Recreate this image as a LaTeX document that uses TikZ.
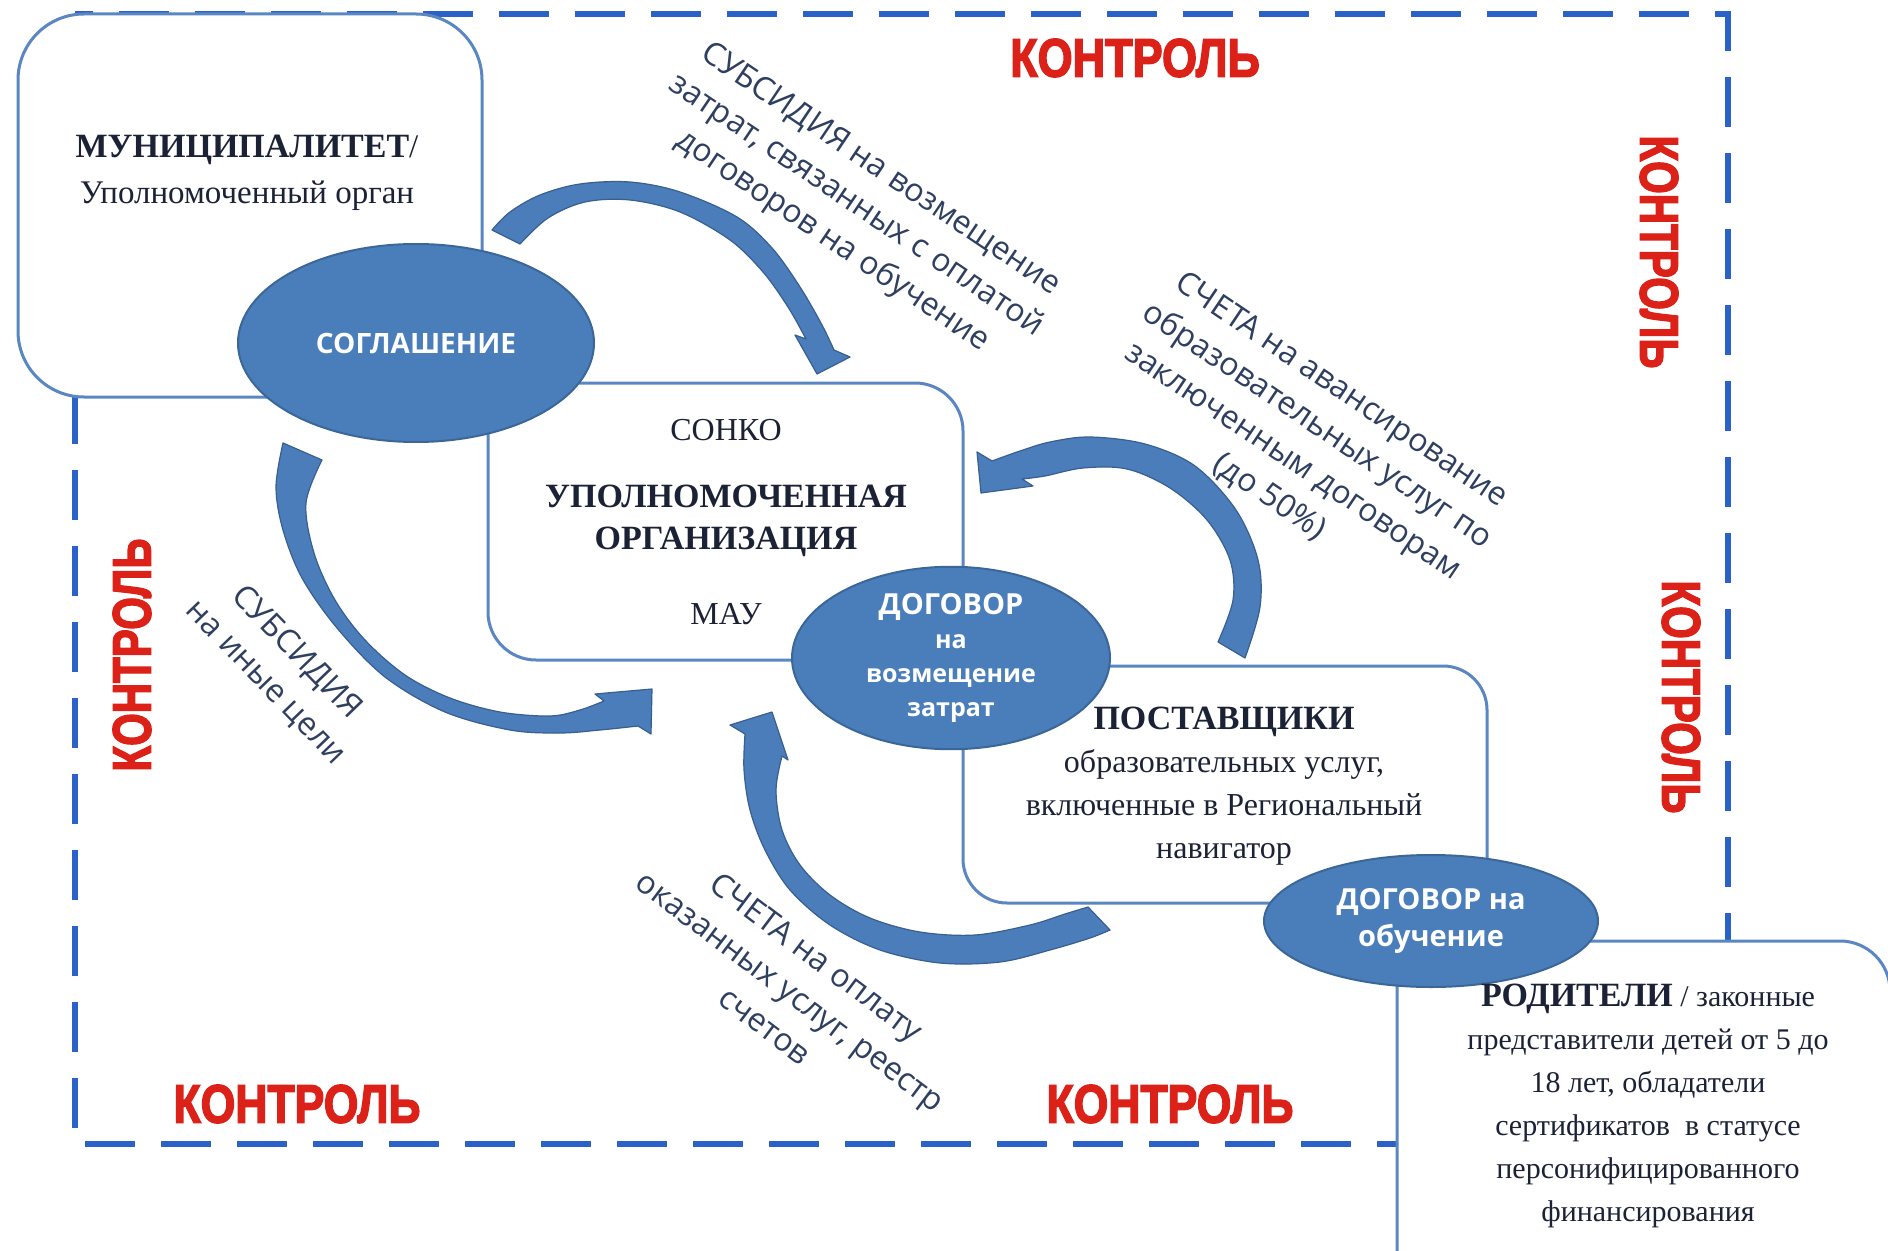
\documentclass[tikz,border=0pt]{standalone}
\usepackage{fontspec}
\setmainfont{Liberation Serif}
\newfontfamily\osans{Open Sans}
\newfontfamily\kfont[BoldFeatures={FakeBold=3}]{Liberation Sans}
\usetikzlibrary{shapes.geometric}
\definecolor{boxblue}{HTML}{5A86C2}
\definecolor{ovalfill}{HTML}{4A7EBB}
\definecolor{ovaledge}{HTML}{3A6798}
\definecolor{arrowfill}{HTML}{4A7DBA}
\definecolor{arrowedge}{HTML}{375F90}
\definecolor{dashblue}{HTML}{2A62C8}
\definecolor{ctrlred}{HTML}{DC2119}
\definecolor{txtcol}{HTML}{1C2235}
\definecolor{lblcol}{HTML}{2E3F60}
\tikzset{
  box/.style={draw=boxblue, line width=1.5pt, fill=white, rectangle},
  oval/.style={ellipse, fill=ovalfill, draw=ovaledge, line width=1pt, inner sep=0pt,
    text=white, align=center},
  frame/.style={draw=dashblue, line width=3pt, dash pattern=on 25pt off 13pt},
  ctrl/.style={text=ctrlred, inner sep=0pt, font=\kfont\bfseries\fontsize{25}{25}\selectfont},
  lbl/.style={text=lblcol, align=center, inner sep=0pt, font=\osans\fontsize{16}{21.5}\selectfont},
  serif/.style={text=txtcol, align=center, inner sep=0pt},
  barrow/.style={fill=arrowfill, draw=arrowedge, line width=0.6pt, line join=round},
}
\begin{document}
\begin{tikzpicture}[x=0.5pt,y=-0.5pt]
\useasboundingbox (0,0) rectangle (1888,1251);
\fill[white] (0,0) rectangle (1888,1251);

% dashed control frame
\draw[frame] (75,14) rectangle (1728,1144);

% boxes
\node[box, rounded corners=33pt, minimum width=232pt, minimum height=191.5pt] (muni) at (250,205.5) {};
\node[box, rounded corners=24pt, minimum width=237.5pt, minimum height=138.5pt] (sonko) at (725.5,521.5) {};
\node[box, rounded corners=22pt, minimum width=262pt, minimum height=118.5pt] (supp) at (1225,784.5) {};
\node[box, rounded corners=25pt, minimum width=246.5pt, minimum height=179.5pt] (par) at (1643.5,1120.5) {};

% ellipses
\node[oval, minimum width=178pt, minimum height=99pt,
  font=\osans\bfseries\fontsize{14}{17}\selectfont] (sogl) at (416,343) {СОГЛАШЕНИЕ};
\node[oval, minimum width=159pt, minimum height=87pt,
  font=\osans\bfseries\fontsize{12.5}{17}\selectfont] (dv) at (951,658)
  {{\fontsize{14.5}{17}\selectfont ДОГОВОР}\\на\\возмещение\\затрат};
\node[oval, minimum width=167pt, minimum height=66pt,
  font=\osans\bfseries\fontsize{14.5}{18.5}\selectfont] (dob) at (1431,921)
  {ДОГОВОР на\\обучение};

% curved block arrows
\path[barrow] plot[smooth,tension=0.55] coordinates {(492,230) (510,212) (540,195) (580,184) (630,182) (680,192) (737,217) (772,248) (800,287) (822,325) (834,350)}
  -- (850,357) -- (817,374) -- (795,335)
  -- plot[smooth,tension=0.55] coordinates {(806,339) (788,307) (763,272) (730,240) (680,212) (630,200) (585,202) (548,218) (520,244)} -- cycle;

\path[barrow] plot[smooth,tension=0.55] coordinates {(283,443) (276,487) (283,530) (302,578) (337,628) (385,677) (445,712) (510,730) (560,733) (600,730) (638,726)}
  -- (651,734) -- (652,689) -- (595,694)
  -- plot[smooth,tension=0.55] coordinates {(604,701) (580,710) (550,716) (500,712) (450,698) (405,675) (365,640) (335,600) (314,553) (306,503) (322,460)} -- cycle;

\path[barrow] plot[smooth,tension=0.55] coordinates {(1245,658) (1260,607) (1258,560) (1236,510) (1195,466) (1145,444) (1090,437) (1050,442) (1020,451) (992,461)}
  -- (977,452) -- (981,493) -- (1033,486)
  -- plot[smooth,tension=0.55] coordinates {(1022,479) (1045,476) (1083,468) (1127,469) (1170,488) (1207,520) (1230,560) (1233,600) (1218,642)} -- cycle;

\path[barrow] plot[smooth,tension=0.55] coordinates {(1110,930) (1090,938) (1050,950) (1000,962) (940,963) (880,950) (830,925) (790,890) (765,850) (750,810) (744,770) (745,734)}
  -- (730,725) -- (772,712) -- (788,760)
  -- plot[smooth,tension=0.55] coordinates {(782,756) (776,790) (782,830) (800,865) (830,895) (870,918) (920,932) (975,935) (1030,925) (1065,914) (1088,907)} -- cycle;

% box texts
\node[serif, font=\fontsize{16.5}{23}\selectfont] (munitext) at (247,173)
  {{\fontsize{17}{23}\selectfont\bfseries МУНИЦИПАЛИТЕТ}/\\Уполномоченный орган};
\node[serif, font=\fontsize{16}{20}\selectfont] (sonko1) at (726,430) {СОНКО};
\node[serif, font=\bfseries\fontsize{17}{21}\selectfont] (sonko2) at (726,521) {УПОЛНОМОЧЕННАЯ\\ОРГАНИЗАЦИЯ};
\node[serif, font=\fontsize{16}{20}\selectfont] (sonko3) at (726,614) {МАУ};
\node[serif, font=\fontsize{16}{21.5}\selectfont] (supptext) at (1224,786)
  {{\fontsize{17}{21.5}\selectfont\bfseries ПОСТАВЩИКИ}\\образовательных услуг,\\включенные в Региональный\\навигатор};
\node[serif, font=\fontsize{15}{21.5}\selectfont] (partext) at (1648,1106)
  {{\fontsize{17}{21.5}\selectfont\bfseries РОДИТЕЛИ} / законные\\представители детей от 5 до\\18 лет, обладатели\\сертификатов\ \ в статусе\\персонифицированного\\финансирования};

% rotated flow labels
\node[lbl, rotate=-34] (lblA) at (856,206) {СУБСИДИЯ на возмещение\\затрат, связанных с оплатой\\договоров на обучение};
\node[lbl, rotate=-34] (lblB) at (1305,444) {СЧЕТА на авансирование\\образовательных услуг по\\заключенным договорам\\(до 50\%)};
\node[lbl, rotate=-46] (lblC) at (281,668) {СУБСИДИЯ\\на иные цели};
\node[lbl, rotate=-37] (lblD) at (791,991) {СЧЕТА на оплату\\оказанных услуг, реестр\\счетов};

% control labels
\node[ctrl] (k1) at (1135,58) {\scalebox{0.9}[1.08]{КОНТРОЛЬ}};
\node[ctrl, rotate=-90] (k2) at (1659,252) {\scalebox{0.84}[1.08]{КОНТРОЛЬ}};
\node[ctrl, rotate=-90] (k3) at (1681,697) {\scalebox{0.84}[1.08]{КОНТРОЛЬ}};
\node[ctrl, rotate=90] (k4) at (132,655) {\scalebox{0.84}[1.08]{КОНТРОЛЬ}};
\node[ctrl] (k5) at (297,1104) {\scalebox{0.89}[1.08]{КОНТРОЛЬ}};
\node[ctrl] (k6) at (1170,1104) {\scalebox{0.89}[1.08]{КОНТРОЛЬ}};
\end{tikzpicture}
\end{document}
